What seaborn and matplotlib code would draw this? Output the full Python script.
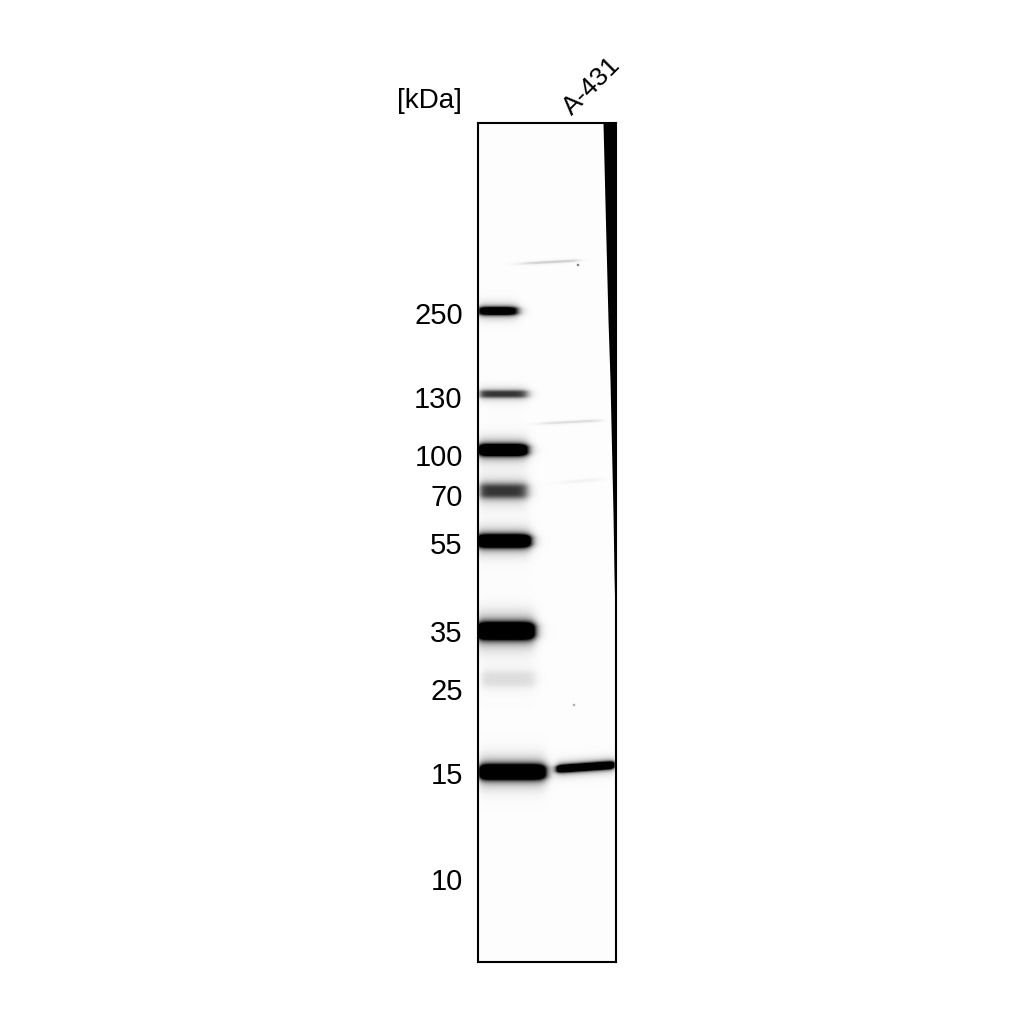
import numpy as np
import matplotlib
matplotlib.use("Agg")
import matplotlib.pyplot as plt
import seaborn as sns

# ------------------------------------------------------------
# Gel data (rows / columns are measured inside the gel frame)
# ------------------------------------------------------------
GEL_W, GEL_H = 138, 839

marker_kda = ["250", "130", "100", "70", "55", "35", "25", "15", "10"]
marker_label_row = [189, 273, 332, 372, 420, 508, 565, 649, 756]

# ladder lane bands
ladder_row = [188, 271, 327, 368, 418, 508, 556, 649]
ladder_half = [4.0, 3.8, 5.5, 7.5, 6.0, 8.0, 8.0, 7.0]
ladder_int = [1.3, 0.7, 1.7, 0.7, 1.8, 1.8, 0.11, 1.8]
ladder_end = [39, 49, 49, 49, 52, 56, 57, 67]
ladder_start = [1, 2, 1, 2, 0, 0, 4, 2]

# A-431 lane: single band at 15 kDa (slightly tilted)
sample_row = [646, 642]      # left end, right end
sample_cols = [79, 136]
sample_half = 3.6
sample_int = 1.6

# faint streaks and specks in the sample lane
faint_row = [139, 299, 358]
faint_start = [46, 64, 82]
faint_end = [100, 122, 122]
faint_int = [0.16, 0.11, 0.035]
faint_half = [1.2, 1.2, 1.6]
speck_col = [100, 96]
speck_row = [142, 582]
speck_int = [0.7, 0.45]

# dark edge artefact along the right side of the membrane
streak_row = [0, 100, 197, 257, 324, 390, 450, 520]
streak_width = [13, 10.5, 8, 6, 4.5, 3, 2, 0.5]

# ------------------------------------------------------------
# Render membrane image from the band table
# ------------------------------------------------------------
cols = np.arange(GEL_W) + 0.5
rows = np.arange(GEL_H) + 0.5
C, R = np.meshgrid(cols, rows)


def band(centre_l, centre_r, start, end, half, inten, soft_l=2.0, soft_r=2.8):
    centre = centre_l + (centre_r - centre_l) * (C - start) / (end - start)
    v = 1 / (1 + ((R - centre) / half) ** 4)
    v = v + 0.12 * np.exp(-((R - centre) / (2.2 * half)) ** 2)
    h = 1 / (1 + np.exp(-(C - start) / soft_l)) / (1 + np.exp((C - end) / soft_r))
    return inten * v * h


img = np.full((GEL_H, GEL_W), 0.01)
for r, hw, it, s, e in zip(ladder_row, ladder_half, ladder_int, ladder_start, ladder_end):
    img += band(r, r, s, e, hw, it)
img += band(sample_row[0], sample_row[1], sample_cols[0], sample_cols[1],
            sample_half, sample_int, 2.0, 1.5)
for r, s, e, it, hw in zip(faint_row, faint_start, faint_end, faint_int, faint_half):
    img += band(r + 1.5, r - 1.5, s, e, hw, it, 6, 3)
for c, r, it in zip(speck_col, speck_row, speck_int):
    img += it * np.exp(-((C - c) ** 2 + (R - r) ** 2) / 1.2)
img = np.clip(img, 0, 1)

# ------------------------------------------------------------
# Plot
# ------------------------------------------------------------
sns.set_style("white")
plt.rcParams["font.family"] = ["Liberation Sans", "DejaVu Sans"]
plt.rcParams["text.color"] = "black"
plt.rcParams["ytick.color"] = "black"

fig = plt.figure(figsize=(10.24, 10.24), dpi=100)
ax = fig.add_axes([478 / 1024, 62 / 1024, 138 / 1024, 839 / 1024])

sns.heatmap(img, cmap="gray_r", vmin=0, vmax=1, cbar=False,
            xticklabels=False, yticklabels=False, ax=ax, rasterized=True)

ax.fill_betweenx(streak_row, GEL_W - np.array(streak_width), GEL_W,
                 color="black", lw=0)
ax.set_xlim(0, GEL_W)
ax.set_ylim(GEL_H, 0)

ax.set_yticks(np.array(marker_label_row) + 0.5)
ax.set_yticklabels(marker_kda, fontsize=21, color="black")
ax.set_xticks([])
ax.tick_params(axis="y", length=0, pad=11, rotation=0)
for sp in ax.spines.values():
    sp.set_visible(True)
    sp.set_linewidth(1.5)
    sp.set_color("black")

fig.text(462 / 1024, 1 - 101 / 1024, "[kDa]", ha="right", va="center",
         fontsize=20, color="black")
fig.text(592 / 1024, 1 - 86 / 1024, "A-431", ha="center", va="center",
         rotation=45, fontsize=19, color="black")

fig.savefig("out.png", dpi=100)
plt.close(fig)
